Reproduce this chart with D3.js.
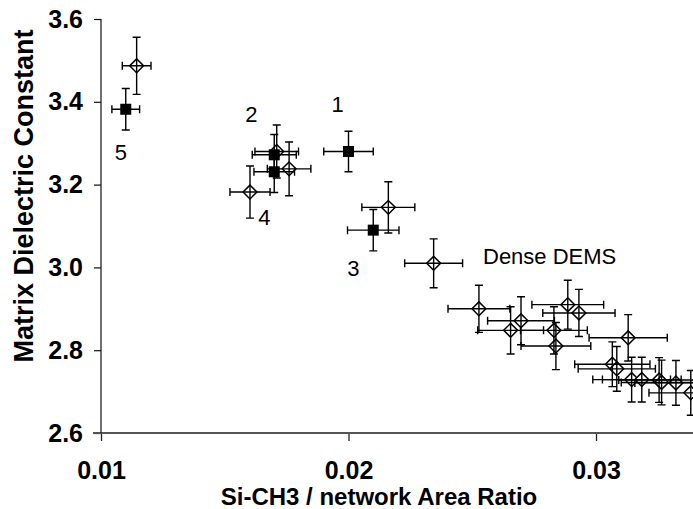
<!DOCTYPE html>
<html>
<head>
<meta charset="utf-8">
<script src="https://cdn.jsdelivr.net/npm/d3@7"></script>
<style>
  body { margin: 0; background: #fff; }
  svg { display: block; font-family: "Liberation Sans", Arial, Helvetica, sans-serif; }
</style>
</head>
<body>
<div id="chart"></div>
<script>
// Filled squares (numbered samples)
var squareLabels = ["1", "2", "3", "4", "5"];
var squareX    = [0.0200, 0.0170, 0.0210, 0.0170, 0.0110];
var squareY    = [3.280, 3.272, 3.090, 3.231, 3.382];
var squareXErr = [0.0010, 0.00089, 0.00104, 0.00082, 0.00056];
var squareYErr = [0.049, 0.049, 0.050, 0.050, 0.050];

// Open diamonds (Dense DEMS)
var diamondX    = [0.01144, 0.01710, 0.01760, 0.01602, 0.02161, 0.02344, 0.02527, 0.02655,
                   0.02697, 0.02830, 0.02838, 0.02886, 0.02931, 0.03130, 0.03066, 0.03084,
                   0.03144, 0.03185, 0.03255, 0.03265, 0.03323, 0.03383];
var diamondY    = [3.487, 3.280, 3.238, 3.182, 3.145, 3.010, 2.900, 2.848,
                   2.871, 2.848, 2.810, 2.910, 2.890, 2.830, 2.766, 2.755,
                   2.729, 2.729, 2.728, 2.722, 2.721, 2.697];
var diamondXErr = [0.00058, 0.00088, 0.00088, 0.00081, 0.00107, 0.00117, 0.00125, 0.00133,
                   0.00135, 0.00135, 0.00141, 0.00145, 0.00146, 0.00158, 0.00152, 0.00156,
                   0.00157, 0.00159, 0.00163, 0.00163, 0.00166, 0.00169];
var diamondYErr = [0.069, 0.064, 0.065, 0.063, 0.062, 0.059, 0.057, 0.057,
                   0.058, 0.057, 0.057, 0.059, 0.057, 0.056, 0.054, 0.054,
                   0.054, 0.054, 0.054, 0.054, 0.054, 0.054];

var xTicks = [0.01, 0.02, 0.03];
var yTicks = [2.6, 2.8, 3.0, 3.2, 3.4, 3.6];

var svgWidth = 693;
var svgHeight = 509;

var svg = d3.select("#chart")
  .append("svg")
  .attr("width", svgWidth)
  .attr("height", svgHeight);

var x = d3.scaleLinear().domain([0.01, 0.03]).range([101, 596]);
var y = d3.scaleLinear().domain([2.6, 3.6]).range([433, 19]);

// x axis
var xAxis = svg.append("g")
  .attr("transform", "translate(0, 433)")
  .call(d3.axisBottom(x).tickValues(xTicks).tickFormat(d3.format(".2f"))
    .tickSize(8).tickSizeOuter(0).tickPadding(20));
xAxis.select(".domain").remove();
xAxis.selectAll(".tick line").attr("stroke", "#222").attr("stroke-width", 1.3);
xAxis.selectAll("text").attr("font-size", 25).attr("font-weight", "bold")
  .attr("fill", "#000").attr("font-family", null);

// y axis
var yAxis = svg.append("g")
  .attr("transform", "translate(101, 0)")
  .call(d3.axisLeft(y).tickValues(yTicks).tickFormat(d3.format(".1f"))
    .tickSize(7).tickSizeOuter(0).tickPadding(11));
yAxis.select(".domain").remove();
yAxis.selectAll(".tick line").attr("stroke", "#111").attr("stroke-width", 1.2);
yAxis.selectAll("text").attr("font-size", 25).attr("font-weight", "bold")
  .attr("fill", "#000").attr("font-family", null);

// axis lines
svg.append("line")
  .attr("x1", 93).attr("x2", svgWidth)
  .attr("y1", y(2.6)).attr("y2", y(2.6))
  .attr("stroke", "#555").attr("stroke-width", 2);
svg.append("line")
  .attr("x1", x(0.01)).attr("x2", x(0.01))
  .attr("y1", y(3.6)).attr("y2", y(2.6))
  .attr("stroke", "#111").attr("stroke-width", 1.2);

// axis titles
svg.append("text")
  .attr("transform", "translate(33, 196) rotate(-90)")
  .attr("text-anchor", "middle")
  .attr("font-size", 27)
  .attr("font-weight", "bold")
  .text("Matrix Dielectric Constant");

svg.append("text")
  .attr("x", 379)
  .attr("y", 505)
  .attr("text-anchor", "middle")
  .attr("font-size", 24)
  .attr("font-weight", "bold")
  .text("Si-CH3 / network Area Ratio");

// build point tables
var diamonds = diamondX.map(function(d, i) {
  return { x: d, y: diamondY[i], xe: diamondXErr[i], ye: diamondYErr[i] };
});
var squares = squareX.map(function(d, i) {
  return { x: d, y: squareY[i], xe: squareXErr[i], ye: squareYErr[i], label: squareLabels[i] };
});

var cap = 4;

function drawErrorBars(group, data) {
  var g = group.selectAll("g.err")
    .data(data)
    .enter()
    .append("g")
    .attr("class", "err")
    .attr("stroke", "#000")
    .attr("stroke-width", 1.4)
    .attr("fill", "none");

  // horizontal bar + caps
  g.append("path")
    .attr("d", function(d) {
      var x0 = x(d.x - d.xe), x1 = x(d.x + d.xe), yy = y(d.y);
      return "M" + x0 + "," + yy + "H" + x1 +
        "M" + x0 + "," + (yy - cap) + "V" + (yy + cap) +
        "M" + x1 + "," + (yy - cap) + "V" + (yy + cap);
    });
  // vertical bar + caps
  g.append("path")
    .attr("d", function(d) {
      var y0 = y(d.y - d.ye), y1 = y(d.y + d.ye), xx = x(d.x);
      return "M" + xx + "," + y0 + "V" + y1 +
        "M" + (xx - cap) + "," + y0 + "H" + (xx + cap) +
        "M" + (xx - cap) + "," + y1 + "H" + (xx + cap);
    });
}

var diamondGroup = svg.append("g");
diamondGroup.selectAll("path.diamond")
  .data(diamonds)
  .enter()
  .append("path")
  .attr("class", "diamond")
  .attr("d", d3.symbol(d3.symbolSquare).size(96))
  .attr("transform", function(d) { return "translate(" + x(d.x) + "," + y(d.y) + ") rotate(45)"; })
  .attr("fill", "#fff")
  .attr("stroke", "#000")
  .attr("stroke-width", 1.5);
drawErrorBars(diamondGroup, diamonds);

var squareGroup = svg.append("g");
drawErrorBars(squareGroup, squares);
squareGroup.selectAll("rect")
  .data(squares)
  .enter()
  .append("rect")
  .attr("x", function(d) { return x(d.x) - 5.5; })
  .attr("y", function(d) { return y(d.y) - 5.5; })
  .attr("width", 11)
  .attr("height", 11)
  .attr("fill", "#000");

// sample numbers, offset from their squares
var labelOffsets = [[-11, -39], [-23, -33], [-20, 46], [-10, 53], [-5, 51]];
svg.append("g").selectAll("text")
  .data(squares)
  .enter()
  .append("text")
  .attr("x", function(d, i) { return x(d.x) + labelOffsets[i][0]; })
  .attr("y", function(d, i) { return y(d.y) + labelOffsets[i][1]; })
  .attr("text-anchor", "middle")
  .attr("font-size", 22)
  .text(function(d) { return d.label; });

svg.append("text")
  .attr("x", 483)
  .attr("y", 263.5)
  .attr("font-size", 22)
  .text("Dense DEMS");
</script>
</body>
</html>
